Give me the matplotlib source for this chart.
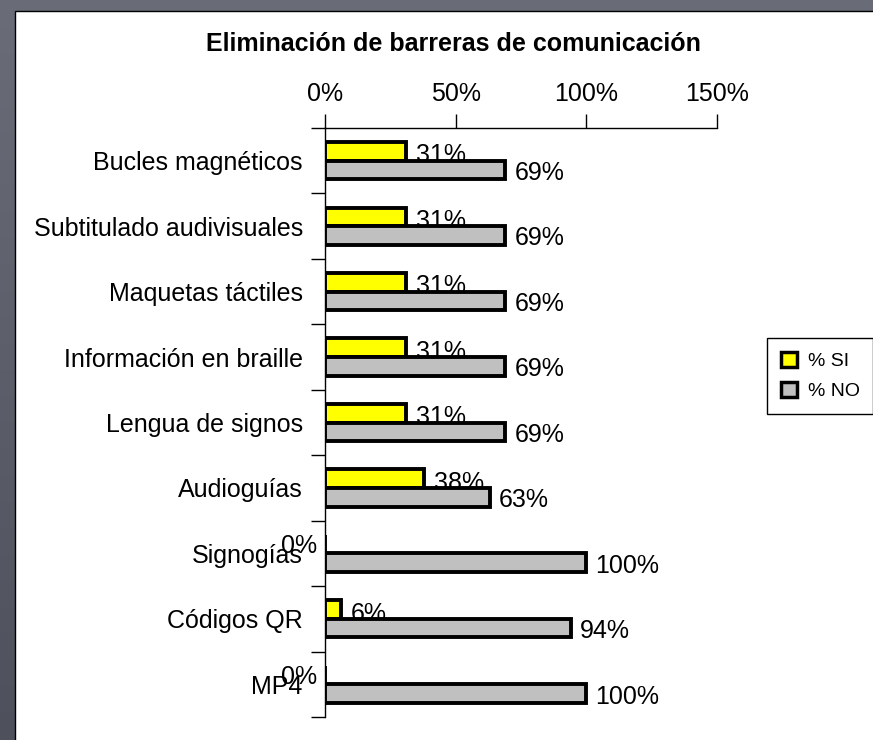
import matplotlib
matplotlib.use("Agg")
import matplotlib.pyplot as plt
import numpy as np
from matplotlib.patches import Rectangle, Patch
from matplotlib.ticker import FixedLocator
from matplotlib.colors import LinearSegmentedColormap
import matplotlib.transforms as mtransforms

plt.rcParams['font.family'] = ['Liberation Sans', 'DejaVu Sans']

categories = ["Bucles magnéticos", "Subtitulado audivisuales", "Maquetas táctiles",
              "Información en braille", "Lengua de signos", "Audioguías",
              "Signogías", "Códigos QR", "MP4"]
si_values = [31, 31, 31, 31, 31, 38, 0, 6, 0]
no_values = [69, 69, 69, 69, 69, 63, 100, 94, 100]
series_names = ["% SI", "% NO"]
x_ticks = [0, 50, 100, 150]
title = "Eliminación de barreras de comunicación"

W, H = 873, 740
fig = plt.figure(figsize=(W / 100, H / 100), dpi=100)

# background gradient
bg = fig.add_axes([0, 0, 1, 1], zorder=-10)
grad = np.linspace(0, 1, 256).reshape(-1, 1)
cmap = LinearSegmentedColormap.from_list("bg", ["#6a6d78", "#4e515b"])
bg.imshow(grad, aspect='auto', cmap=cmap, extent=[0, 1, 0, 1], origin='upper')
bg.set_axis_off()

# white panel
panel = Rectangle((15 / W, -0.01), 1.0, 1 - 11 / H + 0.01, transform=fig.transFigure,
                  facecolor='white', edgecolor='black', linewidth=1.0, zorder=-5)
fig.patches.append(panel)

ax = fig.add_axes([325 / W, 1 - 717 / H, (717 - 325) / W, (717 - 128) / H])
ax.set_facecolor('none')

y = np.arange(len(categories))
h = 0.285
lw = 2.8
ax.barh(y - h / 2, si_values, height=h, color='#FFFF00', edgecolor='black',
        linewidth=lw, zorder=2, label=series_names[0])
ax.barh(y + h / 2, no_values, height=h, color='#C0C0C0', edgecolor='black',
        linewidth=lw, zorder=3, label=series_names[1])

fs = 18
off_si = mtransforms.offset_copy(ax.transData, fig=fig, x=10, y=-11, units='dots')
off_si0 = mtransforms.offset_copy(ax.transData, fig=fig, x=-8, y=-9, units='dots')
off_no = mtransforms.offset_copy(ax.transData, fig=fig, x=9, y=-10, units='dots')
for i, v in enumerate(si_values):
    if v == 0:
        ax.text(v, i - h / 2, f"{v}%", transform=off_si0, ha='right', va='baseline',
                fontsize=fs, zorder=2.5, clip_on=False)
    else:
        ax.text(v, i - h / 2, f"{v}%", transform=off_si, ha='left', va='baseline',
                fontsize=fs, zorder=2.5, clip_on=False)
for i, v in enumerate(no_values):
    ax.text(v, i + h / 2, f"{v}%", transform=off_no, ha='left', va='baseline',
            fontsize=fs, zorder=4, clip_on=False)

ax.set_xlim(0, 150)
ax.set_ylim(len(categories) - 0.5, -0.5)

ax.xaxis.tick_top()
ax.set_xticks(x_ticks)
ax.set_xticklabels([f"{t}%" for t in x_ticks], fontsize=fs)
ax.tick_params(axis='x', direction='out', length=10, width=1.0, pad=6, colors='black')

ax.yaxis.set_major_locator(FixedLocator(np.arange(len(categories) + 1) - 0.5))
ax.yaxis.set_minor_locator(FixedLocator(y))
ax.set_yticklabels([], minor=False)
ax.set_yticklabels(categories, minor=True, fontsize=fs)
ax.tick_params(axis='y', which='major', direction='out', length=10, width=1.0)
ax.tick_params(axis='y', which='minor', length=0, pad=16)

for s in ['right', 'bottom']:
    ax.spines[s].set_visible(False)
for s in ['left', 'top']:
    ax.spines[s].set_linewidth(1.0)

fig.text(453 / W, 1 - 44 / H, title, ha='center', va='center', fontsize=18,
         fontweight='bold')

handles = [Patch(facecolor='#FFFF00', edgecolor='black', linewidth=2.5),
           Patch(facecolor='#C0C0C0', edgecolor='black', linewidth=2.5)]
leg = fig.legend(handles, series_names, loc='upper left',
                 bbox_to_anchor=(767 / W, 1 - 338 / H), fontsize=14,
                 frameon=True, fancybox=False, edgecolor='black', framealpha=1,
                 handlelength=0.85, handleheight=0.85, handletextpad=0.55,
                 borderpad=0.7, labelspacing=0.6, borderaxespad=0)
leg.get_frame().set_linewidth(1.0)

fig.savefig("out.png", dpi=100)
